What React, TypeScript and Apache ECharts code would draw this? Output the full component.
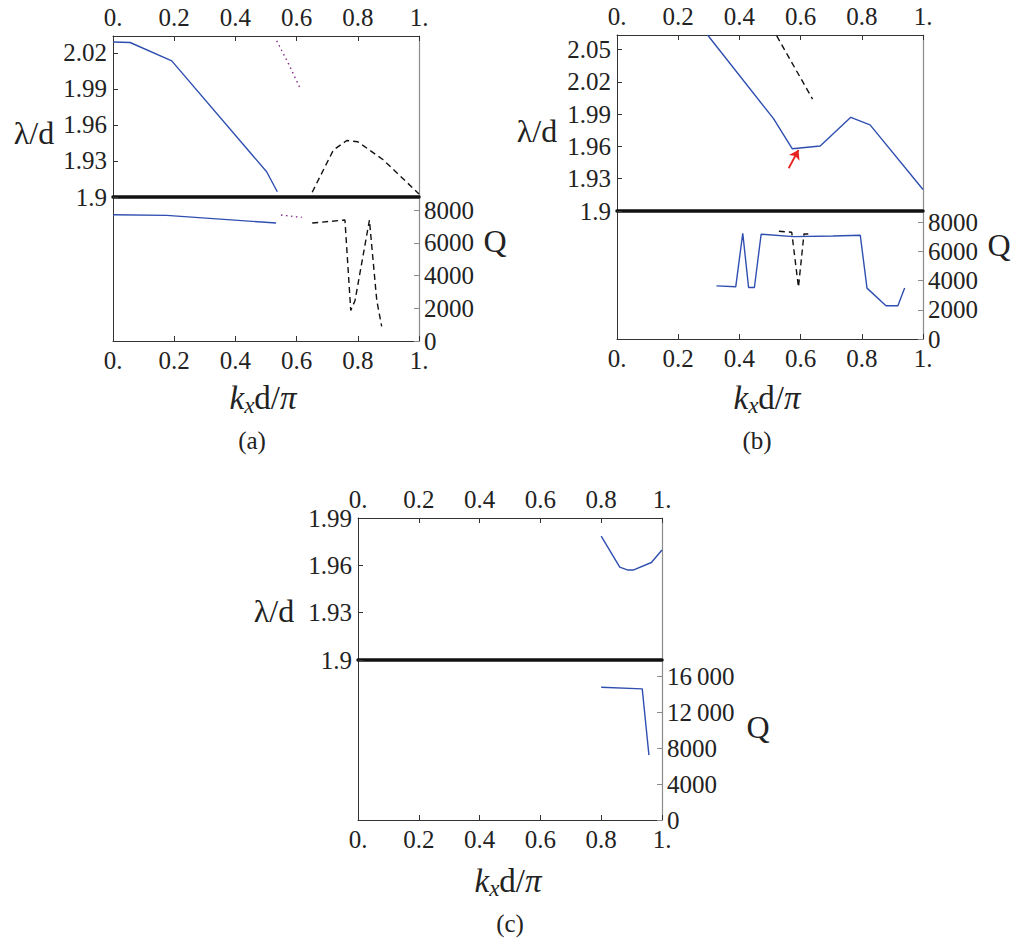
import React, { useEffect, useRef } from "react";
import * as echarts from "echarts";

// ---------- tick values ----------
const xTicks = [0, 0.2, 0.4, 0.6, 0.8, 1];
const lamTicksA = [1.9, 1.93, 1.96, 1.99, 2.02];
const lamTicksB = [1.9, 1.93, 1.96, 1.99, 2.02, 2.05];
const lamTicksC = [1.9, 1.93, 1.96, 1.99];
const qTicksAB = [0, 2000, 4000, 6000, 8000];
const qTicksC = [0, 4000, 8000, 12000, 16000];

// ---------- panel (a) ----------
const aBlueLam = [[0, 2.029], [0.056, 2.0286], [0.192, 2.0133], [0.502, 1.921], [0.537, 1.9044]];
const aPurpleLam = [[0.535, 2.03], [0.573, 2.0112], [0.613, 1.9897]];
const aDashLam = [[0.651, 1.904], [0.72, 1.939], [0.764, 1.947], [0.8, 1.946], [0.883, 1.931], [1.0, 1.9025]];
const aBlueQ = [[0, 7726], [0.175, 7683], [0.533, 7220]];
const aPurpleQ = [[0.549, 7707], [0.617, 7561]];
const aDashQ = [[0.651, 7220], [0.758, 7400], [0.777, 1872], [0.791, 2480], [0.838, 7400], [0.845, 5940], [0.862, 2480], [0.878, 896]];

// ---------- panel (b) ----------
const bBlueLam = [[0.296, 2.0635], [0.511, 1.986], [0.573, 1.9578], [0.664, 1.9604], [0.764, 1.987], [0.827, 1.98], [1.0, 1.92]];
const bDashLam = [[0.522, 2.0626], [0.639, 2.004]];
const bArrow = [[0.561, 1.9397], [0.593, 1.9567]];
const bBlueQ = [[0.325, 3643], [0.388, 3575], [0.411, 7245], [0.43, 3527], [0.449, 3527], [0.471, 7177], [0.577, 7013], [0.706, 7060], [0.795, 7108], [0.817, 3486], [0.879, 2276], [0.918, 2276], [0.94, 3486]];
const bDashQ = [[0.529, 7382], [0.571, 7313], [0.593, 3554], [0.611, 7198], [0.628, 7198]];

// ---------- panel (c) ----------
const cBlueLam = [[0.8, 1.9785], [0.861, 1.9589], [0.888, 1.957], [0.905, 1.957], [0.965, 1.9618], [1.0, 1.9697]];
const cBlueQ = [[0.8, 14766], [0.935, 14587], [0.957, 7220]];

const FONT = "'Liberation Serif', 'DejaVu Serif', serif";
const BLUE = "#2f4fb0";
const PURPLE = "#8a2c8c";
const BLACK = "#111";
const DARK = "#333";
const GRAY = "#8c8c8c";

const xFmt = (v: number) => (v === 0 ? "0." : v === 1 ? "1." : v.toFixed(1));
const lamFmt = (v: number) => String(parseFloat(v.toFixed(2)));
const qFmt = (v: number) =>
  v >= 10000 ? `${Math.floor(v / 1000)}\u2009${String(v % 1000).padStart(3, "0")}` : String(v);

const panels = [
  { left: 113, top: 36, width: 306, hT: 161, hB: 144, lamMax: 2.034, lamTicks: lamTicksA, qMax: 8810, qTicks: qTicksAB, tag: "(a)",
    lamLbl: [34, 133], qLbl: [495, 241], kLbl: [263, 398], tagLbl: [252, 440] },
  { left: 617, top: 35, width: 306, hT: 176, hB: 128, lamMax: 2.0635, lamTicks: lamTicksB, qMax: 8770, qTicks: qTicksAB, tag: "(b)",
    lamLbl: [537, 131], qLbl: [999, 245], kLbl: [767, 398], tagLbl: [757, 440] },
  { left: 358, top: 518, width: 304, hT: 142, hB: 160, lamMax: 1.99, lamTicks: lamTicksC, qMax: 17800, qTicks: qTicksC, tag: "(c)",
    lamLbl: [274, 611], qLbl: [758, 727], kLbl: [508, 881], tagLbl: [510, 923] },
];

const lbl = (fmt: (v: number) => string, vals: number[], margin: number) => ({
  show: true,
  customValues: vals,
  formatter: fmt,
  fontSize: 25,
  fontFamily: FONT,
  color: "#222",
  margin,
});

function buildOption() {
  const grid: any[] = [];
  const xAxis: any[] = [];
  const yAxis: any[] = [];
  const graphic: any[] = [];
  panels.forEach((p, i) => {
    grid.push({ left: p.left, top: p.top, width: p.width, height: p.hT });
    grid.push({ left: p.left, top: p.top + p.hT, width: p.width, height: p.hB });
    const gT = 2 * i, gB = 2 * i + 1;
    xAxis.push({
      gridIndex: gT, type: "value", position: "top", min: 0, max: 1,
      axisLine: { show: true, onZero: false, lineStyle: { color: DARK, width: 1 } },
      axisTick: { show: true, inside: true, length: 5, customValues: xTicks, lineStyle: { color: DARK } },
      axisLabel: lbl(xFmt, xTicks, 6), splitLine: { show: false },
    });
    xAxis.push({
      gridIndex: gT, type: "value", position: "bottom", min: 0, max: 1,
      axisLine: { show: true, onZero: false, lineStyle: { color: BLACK, width: 3.5 } },
      axisTick: { show: false }, axisLabel: { show: false }, splitLine: { show: false },
    });
    xAxis.push({
      gridIndex: gB, type: "value", position: "bottom", min: 0, max: 1,
      axisLine: { show: true, onZero: false, lineStyle: { color: DARK, width: 1 } },
      axisTick: { show: true, inside: true, length: 5, customValues: xTicks, lineStyle: { color: DARK } },
      axisLabel: lbl(xFmt, xTicks, 7), splitLine: { show: false },
    });
    yAxis.push({
      gridIndex: gT, type: "value", position: "left", min: 1.9, max: p.lamMax,
      axisLine: { show: true, onZero: false, lineStyle: { color: DARK, width: 1 } },
      axisTick: { show: true, inside: true, length: 5, customValues: p.lamTicks, lineStyle: { color: DARK } },
      axisLabel: lbl(lamFmt, p.lamTicks, 6), splitLine: { show: false },
    });
    yAxis.push({
      gridIndex: gT, type: "value", position: "right", min: 1.9, max: p.lamMax,
      axisLine: { show: true, onZero: false, lineStyle: { color: GRAY, width: 1.2 } },
      axisTick: { show: false }, axisLabel: { show: false }, splitLine: { show: false },
    });
    yAxis.push({
      gridIndex: gB, type: "value", position: "left", min: 0, max: p.qMax,
      axisLine: { show: true, onZero: false, lineStyle: { color: DARK, width: 1 } },
      axisTick: { show: false }, axisLabel: { show: false }, splitLine: { show: false },
    });
    yAxis.push({
      gridIndex: gB, type: "value", position: "right", min: 0, max: p.qMax,
      axisLine: { show: true, onZero: false, lineStyle: { color: GRAY, width: 1.2 } },
      axisTick: { show: true, inside: true, length: 5, customValues: p.qTicks, lineStyle: { color: GRAY } },
      axisLabel: lbl(qFmt, p.qTicks, 5), splitLine: { show: false },
    });
    graphic.push({
      type: "text", x: p.lamLbl[0], y: p.lamLbl[1], silent: true,
      style: { text: "\u03bb/d", fontSize: 32, fontFamily: FONT, fill: "#222", align: "center", verticalAlign: "middle" },
    });
    graphic.push({
      type: "text", x: p.qLbl[0], y: p.qLbl[1], silent: true,
      style: { text: "Q", fontSize: 32, fontFamily: FONT, fill: "#222", align: "center", verticalAlign: "middle" },
    });
    graphic.push({
      type: "text", x: p.kLbl[0], y: p.kLbl[1], silent: true,
      style: {
        text: "{i|k}{s|x}{r|d/}{i|\u03c0}",
        align: "center", verticalAlign: "middle", fill: "#222",
        rich: {
          i: { fontStyle: "italic", fontSize: 33, fontFamily: FONT, fill: "#222" },
          s: { fontStyle: "italic", fontSize: 23, fontFamily: FONT, fill: "#222", padding: [15, 0, 0, 0] },
          r: { fontSize: 33, fontFamily: FONT, fill: "#222" },
        },
      },
    });
    graphic.push({
      type: "text", x: p.tagLbl[0], y: p.tagLbl[1], silent: true,
      style: { text: p.tag, fontSize: 25, fontFamily: FONT, fill: "#222", align: "center", verticalAlign: "middle" },
    });
  });

  const line = (data: number[][], color: string, dash: any, xi: number, yi: number, extra: any = {}) => ({
    type: "line", data, xAxisIndex: xi, yAxisIndex: yi, showSymbol: false, symbol: "none", silent: true,
    lineStyle: { color, width: 1.4, type: dash }, z: 3, ...extra,
  });

  const series = [
    line(aBlueLam, BLUE, "solid", 0, 0),
    line(aPurpleLam, PURPLE, [1.5, 3.5], 0, 0),
    line(aDashLam, BLACK, [6, 4], 0, 0),
    line(aBlueQ, BLUE, "solid", 2, 3),
    line(aPurpleQ, PURPLE, [1.5, 3.5], 2, 3),
    line(aDashQ, BLACK, [6, 4], 2, 3),
    line(bBlueLam, BLUE, "solid", 3, 4, {
      markLine: {
        silent: true, symbol: ["none", "arrow"], symbolSize: 9,
        lineStyle: { color: "#e8231f", width: 1.8, type: "solid" },
        label: { show: false },
        data: [[{ coord: bArrow[0] }, { coord: bArrow[1] }]],
      },
    }),
    line(bDashLam, BLACK, [6, 4], 3, 4),
    line(bBlueQ, BLUE, "solid", 5, 7),
    line(bDashQ, BLACK, [6, 4], 5, 7),
    line(cBlueLam, BLUE, "solid", 6, 8),
    line(cBlueQ, BLUE, "solid", 8, 11),
  ];

  return { animation: false, backgroundColor: "#fff", grid, xAxis, yAxis, series, graphic };
}

export default function App() {
  const ref = useRef<HTMLDivElement>(null);
  useEffect(() => {
    if (!ref.current) return;
    const chart = echarts.init(ref.current, undefined, { renderer: "svg" });
    chart.setOption(buildOption() as any);
    return () => chart.dispose();
  }, []);
  return <div ref={ref} style={{ position: "absolute", left: 0, top: 0, width: 1018, height: 943 }} />;
}
